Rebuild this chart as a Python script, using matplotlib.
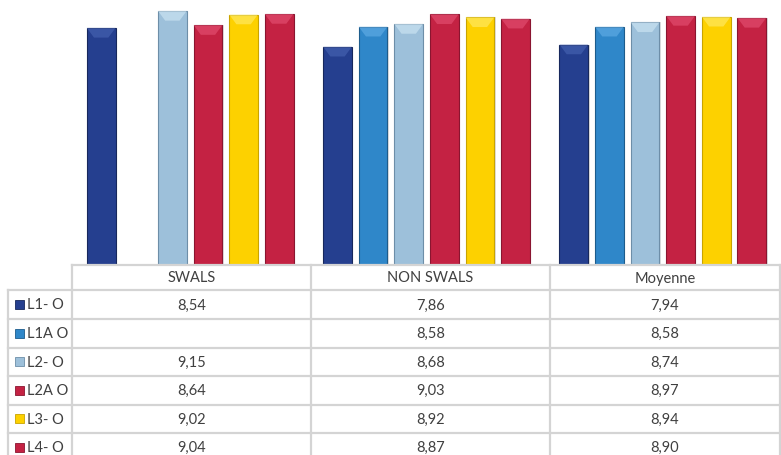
import numpy as np
import matplotlib
matplotlib.use("Agg")
import matplotlib.pyplot as plt
from matplotlib.lines import Line2D
from matplotlib.patches import Rectangle, Polygon

plt.rcParams["font.family"] = ["Lato", "DejaVu Sans"]

groups = ["SWALS", "NON SWALS", "Moyenne"]
series = ["L1- O", "L1A O", "L2- O", "L2A O", "L3- O", "L4- O"]
l1 = [8.54, 7.86, 7.94]
l1a = [np.nan, 8.58, 8.58]
l2 = [9.15, 8.68, 8.74]
l2a = [8.64, 9.03, 8.97]
l3 = [9.02, 8.92, 8.94]
l4 = [9.04, 8.87, 8.90]
data = [l1, l1a, l2, l2a, l3, l4]
colors = ["#253f8f", "#2f87c9", "#9dc0da", "#c42243", "#fdd100", "#c42243"]
edges = ["#17285c", "#1d5c8c", "#6d8ea8", "#8a1530", "#c9a400", "#8a1530"]
tops = ["#4d69b8", "#6bb3ea", "#d6ecf8", "#e9587a", "#fff07a", "#e9587a"]

W, H = 781, 456
fig = plt.figure(figsize=(W / 100, H / 100), dpi=100)
ax = fig.add_axes([72 / W, 190 / H, 709 / W, 266 / H])

step = 36 / 239
width = 29 / 239
x = np.arange(len(groups))
for i, (vals, c, ec, tc) in enumerate(zip(data, colors, edges, tops)):
    pos = x + (i - 2.5) * step
    # soft shadow, body, then a lighter bevel at the top
    ax.bar(pos + 0.006, vals, width, color="#c8c8c8", alpha=0.6, zorder=1)
    ax.bar(pos, vals, width, color=c, edgecolor=ec, linewidth=0.8, zorder=2)
    for p, v in zip(pos, vals):
        if np.isnan(v):
            continue
        h = 0.35
        ax.add_patch(Polygon([[p - width / 2, v], [p + width / 2, v],
                              [p + width / 4, v - h], [p - width / 4, v - h]],
                             closed=True, color=tc, alpha=0.55, lw=0, zorder=3))

ax.set_xlim(-0.5, 2.5)
ax.set_ylim(0, 9.58)
ax.axis("off")

# data table below the plot
tcol = "#404040"
lcol = "#d4d4d4"
col_edges = [72, 311, 550, 780]
row_lines = [266, 291, 320, 348.5, 377, 405.5, 434, 462.5]


def fx(px):
    return px / W


def fy(py):
    return 1 - py / H


def hline(y, x0, x1):
    fig.add_artist(Line2D([fx(x0), fx(x1)], [fy(y), fy(y)], color=lcol, lw=1.6))


def vline(x0, y0, y1):
    fig.add_artist(Line2D([fx(x0), fx(x0)], [fy(y0), fy(y1)], color=lcol, lw=1.6))


hline(row_lines[0], 72, 781)
for y in row_lines[1:]:
    hline(y, 8, 781)
vline(8, row_lines[1], row_lines[-1])
for cx in col_edges:
    vline(cx, row_lines[0], row_lines[-1])

for j, g in enumerate(groups):
    cx = (col_edges[j] + col_edges[j + 1]) / 2
    fig.text(fx(cx), fy((row_lines[0] + row_lines[1]) / 2), g, ha="center",
             va="center", fontsize=10.5, color=tcol)

for i, (name, vals) in enumerate(zip(series, data)):
    cy = (row_lines[i + 1] + row_lines[i + 2]) / 2
    fig.add_artist(Rectangle((fx(15), fy(cy + 4.5)), 9 / W, 9 / H, facecolor=colors[i],
                             edgecolor=edges[i], lw=0.6, transform=fig.transFigure))
    fig.text(fx(27), fy(cy), name, ha="left", va="center", fontsize=10.5, color=tcol)
    for j, v in enumerate(vals):
        if np.isnan(v):
            continue
        cx = (col_edges[j] + col_edges[j + 1]) / 2
        fig.text(fx(cx), fy(cy), f"{v:.2f}".replace(".", ","), ha="center",
                 va="center", fontsize=10.5, color=tcol)

fig.savefig("out.png", dpi=100)
